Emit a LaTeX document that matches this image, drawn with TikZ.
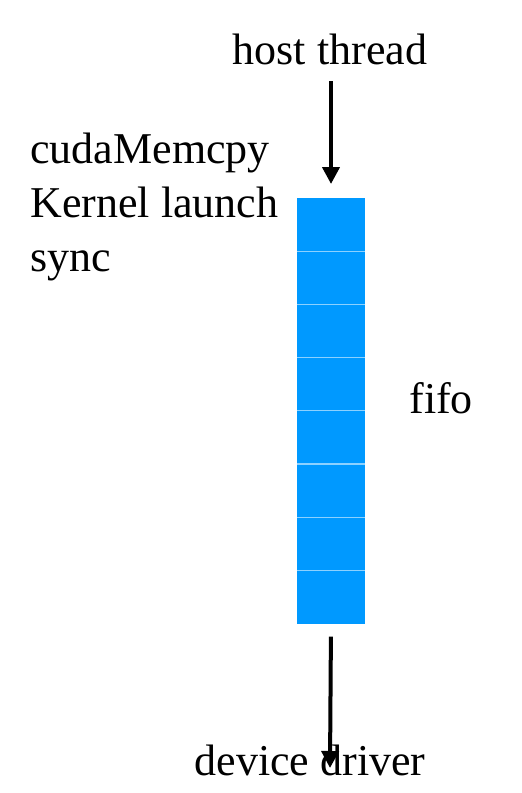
\documentclass[tikz,border=0pt]{standalone}
\usepackage{fontspec}
\setmainfont{Liberation Serif}
\usetikzlibrary{arrows.meta,positioning}
\definecolor{fifoblue}{HTML}{0099FF}

\begin{document}
\begin{tikzpicture}[
  x=0.5pt, y=-0.5pt,
  every node/.style={font=\fontsize{22}{27}\selectfont, inner sep=0pt},
  lbl/.style={anchor=base},
  cell/.style={rectangle, fill=fifoblue, minimum width=34pt, minimum height=26.6pt, outer sep=0pt},
  sep/.style={draw=fifoblue!45!white, line width=0.6pt},
  arr/.style={-{Triangle[length=8.5pt,width=8.5pt]}, line width=2pt},
  >=Stealth
]
\useasboundingbox (0,0) rectangle (521,793);

% Labels
\node[lbl] (host) at (330,64) {host thread};
\node[lbl] (device) at (310,775) {device driver};
\node[lbl, anchor=base west] (fifo) at (409,413) {fifo};

% Commands
\node[lbl, anchor=base west] (cmd1) at (30,163) {cudaMemcpy};
\node[lbl, anchor=base west] (cmd2) at (30,217) {Kernel launch};
\node[lbl, anchor=base west] (cmd3) at (30,271) {sync};

% FIFO queue
\node[cell] (cell1) at (331,224.6) {};
\foreach \i [remember=\i as \prev (initially 1)] in {2,...,8}
  \node[cell, below=0pt of cell\prev] (cell\i) {};
\foreach \i in {1,...,7}
  \draw[sep] (cell\i.south west) -- (cell\i.south east);

% Arrows
\coordinate (drvtip) at (330,768);
\draw[arr, shorten <=8.5pt, shorten >=7pt] (host.base -| cell1) -- (cell1.north);
\draw[arr, shorten <=6.5pt] (cell8.south) -- (drvtip);

\end{tikzpicture}
\end{document}
